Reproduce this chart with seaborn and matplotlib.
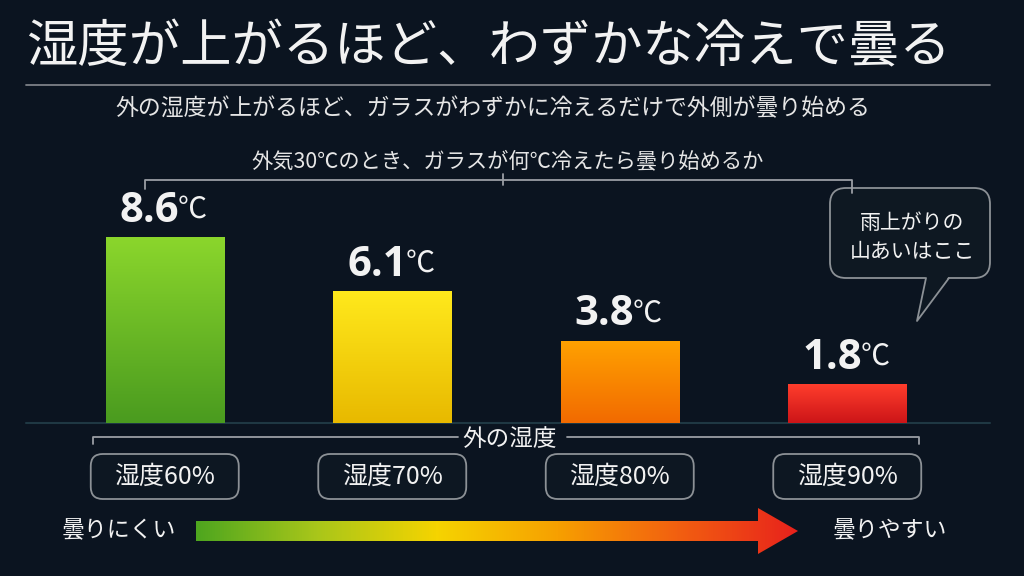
import numpy as np
import matplotlib
matplotlib.use("Agg")
import matplotlib.pyplot as plt
from matplotlib.patches import FancyBboxPatch, Polygon
from matplotlib.colors import LinearSegmentedColormap
import seaborn as sns

# data
humidity_labels = ["湿度60%", "湿度70%", "湿度80%", "湿度90%"]
fog_margin_c = [8.6, 6.1, 3.8, 1.8]
bar_colors = ["#6cbb26", "#f5d20c", "#f88800", "#e52a22"]
bar_top_colors = ["#8bd62c", "#ffe91c", "#ffa200", "#ff3d2c"]
bar_bottom_colors = ["#4a9b1f", "#e8b900", "#f26a00", "#cc1518"]

title = "湿度が上がるほど、わずかな冷えで曇る"
subtitle = "外の湿度が上がるほど、ガラスがわずかに冷えるだけで外側が曇り始める"
question = "外気30℃のとき、ガラスが何℃冷えたら曇り始めるか"
axis_caption = "外の湿度"
callout_lines = ["雨上がりの", "山あいはここ"]
scale_low = "曇りにくい"
scale_high = "曇りやすい"
scale_colors = ["#4ea61f", "#a9c61a", "#f5d400", "#f7a000", "#f26010", "#e8221c"]

BG = "#0b1420"
W, H = 1024, 576
TXT = "#f2f2f2"
LINE = "#9a9ea4"

sns.set_theme(style="dark")
plt.rcParams['font.family'] = ['Noto Sans CJK JP', 'DejaVu Sans']

fig = plt.figure(figsize=(W / 100, H / 100), dpi=100, facecolor=BG)

# decoration layer in pixel coordinates (y pointing down)
ov = fig.add_axes([0, 0, 1, 1], zorder=0)
ov.set_xlim(0, W)
ov.set_ylim(H, 0)
ov.axis('off')
ov.patch.set_visible(False)

# bar chart
ax = fig.add_axes([51 / W, 1 - 423 / H, 910 / W, 233 / H], zorder=1)
ax.patch.set_visible(False)
sns.barplot(x=humidity_labels, y=fog_margin_c, hue=humidity_labels, palette=bar_colors,
            legend=False, width=0.52, saturation=1, linewidth=0, ax=ax)

bars = sorted(ax.patches, key=lambda p: p.get_x())
grad = np.linspace(0, 1, 256).reshape(-1, 1)
for bar, top, bot in zip(bars, bar_top_colors, bar_bottom_colors):
    cmap = LinearSegmentedColormap.from_list("bar", [bot, top])
    x0, w, h = bar.get_x(), bar.get_width(), bar.get_height()
    im = ax.imshow(grad, extent=[x0, x0 + w, 0, h], origin='lower', aspect='auto',
                   cmap=cmap, zorder=3)
    im.set_clip_path(bar)

ax.set_xlim(-0.5, 3.5)
ax.set_ylim(0, 10.79)
ax.set_xticks([])
ax.set_yticks([])
ax.set_xlabel("")
ax.set_ylabel("")
sns.despine(ax=ax, left=True, bottom=True)
ax.grid(False)

for i, v in enumerate(fog_margin_c):
    t = ax.annotate(f"{v:.1f}", xy=(i, v), xytext=(-11, 4), textcoords="offset points",
                    ha="center", va="bottom", fontsize=30, fontweight="bold",
                    family=['Open Sans', 'DejaVu Sans'], color=TXT, zorder=5)
    ax.annotate("℃", xy=(1, 0), xycoords=t, xytext=(-1, 5), textcoords="offset points",
                ha="left", va="bottom", fontsize=21, color=TXT, zorder=5)

# headings
ov.text(26, 48, title, fontsize=37, ha='left', va='center', color=TXT)
ov.plot([26, 990], [85, 85], color="#7c8087", lw=1.3)
ov.text(493, 109, subtitle, fontsize=16.5, ha='center', va='center', color="#e6e6e6")
ov.text(508, 161, question, fontsize=15.3, ha='center', va='center', color="#e6e6e6")

# bracket under the question
ov.plot([145, 145, 852, 852], [189, 180, 180, 193], color=LINE, lw=1.3)
ov.plot([503, 503], [174, 185], color=LINE, lw=1.3)

# baseline
ov.plot([26, 990], [423, 423], color="#1f3843", lw=1.5)

# speech bubble
ov.add_patch(FancyBboxPatch((830, 188), 160, 90, boxstyle="round,pad=0,rounding_size=16",
                            facecolor="#0e1822", edgecolor="#8c9196", lw=1.3))
ov.add_patch(Polygon([(926, 276), (917, 321), (949, 276)], closed=True,
                     facecolor="#0e1822", edgecolor="none"))
ov.plot([926, 917, 949], [278, 321, 278], color="#8c9196", lw=1.3)
ov.text(912, 223, callout_lines[0], fontsize=15, ha='center', va='center', color=TXT)
ov.text(912, 252, callout_lines[1], fontsize=15, ha='center', va='center', color=TXT)

# humidity bracket and category boxes
ov.plot([93, 93, 458], [444, 437, 437], color=LINE, lw=1.3)
ov.plot([567, 919, 919], [437, 437, 444], color=LINE, lw=1.3)
ov.text(510, 440, axis_caption, fontsize=17, ha='center', va='center', color=TXT)

for i, lab in enumerate(humidity_labels):
    cx = ax.transData.transform((i, 0))[0]
    ov.add_patch(FancyBboxPatch((cx - 74, 454), 148, 45, boxstyle="round,pad=0,rounding_size=12",
                                facecolor="#0d1722", edgecolor="#8c9196", lw=1.3))
    ov.text(cx, 477, lab, fontsize=18, ha='center', va='center', color=TXT)

# gradient arrow
arrow = Polygon([(196, 521), (758, 521), (758, 508), (798, 531), (758, 554),
                 (758, 541), (196, 541)], closed=True, facecolor="none", edgecolor="none")
ov.add_patch(arrow)
scale_cmap = LinearSegmentedColormap.from_list("scale", scale_colors)
arr_im = ov.imshow(np.linspace(0, 1, 512).reshape(1, -1), extent=[196, 798, 556, 505],
                   aspect='auto', cmap=scale_cmap, zorder=2)
arr_im.set_clip_path(arrow)
ov.set_xlim(0, W)
ov.set_ylim(H, 0)

ov.text(119, 531, scale_low, fontsize=16.5, ha='center', va='center', color=TXT)
ov.text(890, 531, scale_high, fontsize=16.5, ha='center', va='center', color=TXT)

fig.savefig("out.png", dpi=100, facecolor=BG)
